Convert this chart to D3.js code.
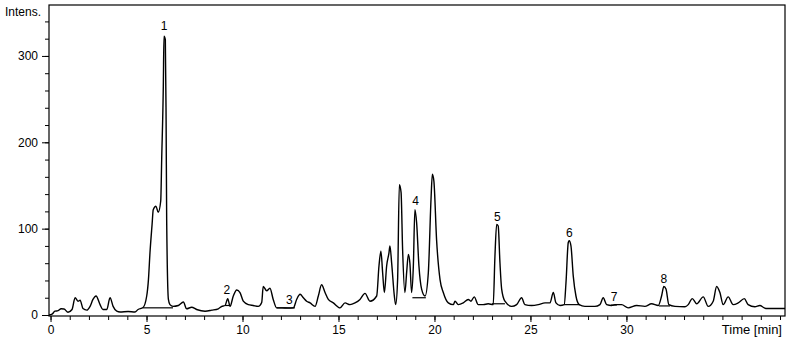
<!DOCTYPE html>
<html>
<head>
<meta charset="utf-8">
<script src="https://cdn.jsdelivr.net/npm/d3@7"></script>
<style>
  body { margin: 0; background: #fff; }
  svg text { font-family: "Liberation Sans", Arial, sans-serif; fill: #000; }
</style>
</head>
<body>
<svg id="chart" width="795" height="342"></svg>
<script>
// trace (time in min, intensity)
var times = [-0.08, 0.08, 0.23, 0.39, 0.55, 0.70, 0.91, 1.12, 1.28, 1.43, 1.54, 1.69, 1.89, 2.06, 2.21, 2.37,
  2.58, 2.73, 2.93, 3.10, 3.26, 3.45, 3.62, 4.04, 4.40, 4.56, 4.82, 5.01, 5.10, 5.18, 5.29, 5.35, 5.49,
  5.61, 5.74, 5.79, 5.875, 5.91, 5.98, 6.02, 6.05, 6.14, 6.22, 6.38, 6.66, 6.92, 7.09, 7.35, 7.61, 8.05,
  8.40, 8.74, 8.92, 9.09, 9.23, 9.35, 9.52, 9.70, 9.87, 10.04, 10.30, 10.56, 10.82, 11.00, 11.08, 11.26,
  11.43, 11.60, 11.78, 12.06, 12.37, 12.65, 12.82, 13.00, 13.17, 13.34, 13.52, 13.78, 13.95, 14.12, 14.30,
  14.47, 14.73, 15.08, 15.34, 15.60, 15.86, 16.12, 16.38, 16.64, 16.99, 17.11, 17.21, 17.30, 17.39, 17.51,
  17.63, 17.68, 17.77, 17.91, 17.98, 18.08, 18.17, 18.26, 18.34, 18.46, 18.55, 18.64, 18.72, 18.81, 18.90,
  18.98, 19.07, 19.19, 19.33, 19.51, 19.68, 19.82, 19.89, 19.97, 20.11, 20.29, 20.46, 20.72, 20.98, 21.07,
  21.24, 21.50, 21.76, 21.90, 22.07, 22.28, 22.54, 22.80, 23.06, 23.15, 23.24, 23.32, 23.41, 23.50, 23.67,
  24.02, 24.28, 24.54, 24.71, 25.06, 25.41, 25.76, 26.02, 26.19, 26.33, 26.54, 26.76, 26.85, 26.97, 27.02,
  27.11, 27.23, 27.37, 27.54, 27.84, 28.36, 28.62, 28.79, 28.97, 29.23, 29.40, 29.75, 30.09, 30.53, 30.96,
  31.31, 31.66, 31.83, 31.95, 32.06, 32.21, 32.53, 33.05, 33.22, 33.43, 33.66, 34.00, 34.26, 34.52, 34.70,
  34.87, 35.04, 35.30, 35.56, 35.82, 36.14, 36.34, 36.69, 36.95, 37.18, 37.30, 38.26];
var intens = [0, 1, 4.4, 5, 7.2, 7, 3.2, 6.4, 20, 16, 17, 7.5, 5.6, 10, 18, 22,
  12, 6.4, 6.4, 20, 10, 4.4, 3.5, 4, 3.5, 6.4, 8.7, 22, 41, 72, 105, 122, 126,
  119, 132, 180, 265, 323, 319, 226, 110, 18, 12, 10, 11, 15, 7.2, 9, 6.4, 4.4,
  5.6, 7.2, 10, 11, 19, 10, 22, 29, 26, 16, 12, 11, 10, 14.5, 33, 28,
  31, 18, 8.3, 8.3, 8, 8.3, 18, 24, 20, 16, 14, 10, 22, 35, 26,
  18, 14, 8.3, 14, 12, 14, 18, 25, 16, 22, 57, 74, 49, 26, 57,
  72, 80, 60, 22, 12, 41, 151, 142, 76, 26, 49, 70, 60, 26, 57,
  122, 107, 57, 30, 22, 49, 134, 163, 155, 87, 41, 26, 14, 12, 16,
  12, 14, 18, 16, 21, 12, 12, 13, 12, 68, 105, 103, 61, 30, 16,
  10, 12, 20, 12, 11, 12, 14, 14, 26, 14, 11, 12, 37, 84, 86,
  80, 45, 22, 12, 10, 10, 12, 20, 12, 11, 12, 12, 8.3, 11, 10,
  13, 11, 22, 33, 30, 12, 10, 9.5, 12, 19, 13, 21, 10, 16, 33,
  26, 12, 21, 12, 14, 19, 12, 9.5, 11, 8.3, 7.5, 7.5];

// integration baselines under the numbered peaks
var baseStart = [4.82, 9.09, 11.78, 18.85, 23.00, 26.76, 29.20, 31.70];
var baseEnd = [6.38, 9.35, 12.73, 19.55, 23.67, 27.58, 29.50, 32.27];
var baseLevel = [8.3, 11, 8.3, 20, 13, 12, 11.5, 10.5];

// peak numbers
var peakNames = ['1', '2', '3', '4', '5', '6', '7', '8'];
var peakTimes = [5.91, 9.19, 12.44, 19.02, 23.27, 27.02, 29.36, 31.95];
var peakLabelAt = [330, 24, 13, 127, 109, 90, 16, 36.5];

var xMajor = [0, 5, 10, 15, 20, 25, 30];
var xMinor = d3.range(0, 39, 1);
var yMajor = [0, 100, 200, 300];
var yMinor = d3.range(0, 360, 20);
var yTitle = 'Intens.';
var xTitle = 'Time [min]';

var svg = d3.select('#chart');
var margins = { top: 5, bottom: 26, left: 49, right: 10 };
var width = 795, height = 342;

var x = d3.scaleLinear()
  .domain([-0.08, 38.26])
  .range([margins.left, width - margins.right]);
var y = d3.scaleLinear()
  .domain([0, 359])
  .range([height - margins.bottom - 1, margins.top]);

var axisY = height - margins.bottom;

// minor ticks
svg.append('g')
  .attr('transform', 'translate(0,' + axisY + ')')
  .call(d3.axisBottom(x).tickValues(xMinor).tickSize(4).tickFormat(''))
  .call(function(g) { g.select('.domain').remove(); });
svg.append('g')
  .attr('transform', 'translate(' + margins.left + ',0)')
  .call(d3.axisLeft(y).tickValues(yMinor).tickSize(4).tickFormat(''))
  .call(function(g) { g.select('.domain').remove(); });

// major ticks with labels
svg.append('g')
  .attr('class', 'xaxis')
  .attr('transform', 'translate(0,' + axisY + ')')
  .call(d3.axisBottom(x).tickValues(xMajor).tickSize(6).tickPadding(3))
  .call(function(g) { g.select('.domain').remove(); });
svg.append('g')
  .attr('class', 'yaxis')
  .attr('transform', 'translate(' + margins.left + ',0)')
  .call(d3.axisLeft(y).tickValues(yMajor).tickSize(7).tickPadding(4))
  .call(function(g) { g.select('.domain').remove(); });

svg.selectAll('.tick text').attr('font-size', '12px').attr('font-family', null);
svg.selectAll('.tick line').attr('stroke', '#000');

// frame
svg.append('rect')
  .attr('x', margins.left)
  .attr('y', margins.top)
  .attr('width', width - margins.right - margins.left)
  .attr('height', axisY - margins.top)
  .attr('fill', 'none')
  .attr('stroke', '#000')
  .attr('stroke-width', 1.2);

// baselines
svg.selectAll('line.base')
  .data(baseStart)
  .enter()
  .append('line')
  .attr('class', 'base')
  .attr('x1', function(d) { return x(d); })
  .attr('x2', function(d, i) { return x(baseEnd[i]); })
  .attr('y1', function(d, i) { return y(baseLevel[i]); })
  .attr('y2', function(d, i) { return y(baseLevel[i]); })
  .attr('stroke', '#000')
  .attr('stroke-width', 1.2);

// trace
var line = d3.line()
  .curve(d3.curveMonotoneX)
  .x(function(d) { return x(d); })
  .y(function(d, i) { return y(intens[i]); });
svg.append('path')
  .datum(times)
  .attr('d', line)
  .attr('fill', 'none')
  .attr('stroke', '#000')
  .attr('stroke-width', 1.4)
  .attr('stroke-linejoin', 'round');

// peak numbers
svg.selectAll('text.peak')
  .data(peakNames)
  .enter()
  .append('text')
  .attr('class', 'peak')
  .attr('x', function(d, i) { return x(peakTimes[i]); })
  .attr('y', function(d, i) { return y(peakLabelAt[i]); })
  .attr('text-anchor', 'middle')
  .attr('font-size', '12px')
  .text(function(d) { return d; });

// titles
svg.append('text')
  .attr('x', 5)
  .attr('y', 16)
  .attr('font-size', '12px')
  .text(yTitle);
svg.append('text')
  .attr('x', width - margins.right - 3)
  .attr('y', 334)
  .attr('text-anchor', 'end')
  .attr('font-size', '13px')
  .text(xTitle);
</script>
</body>
</html>
